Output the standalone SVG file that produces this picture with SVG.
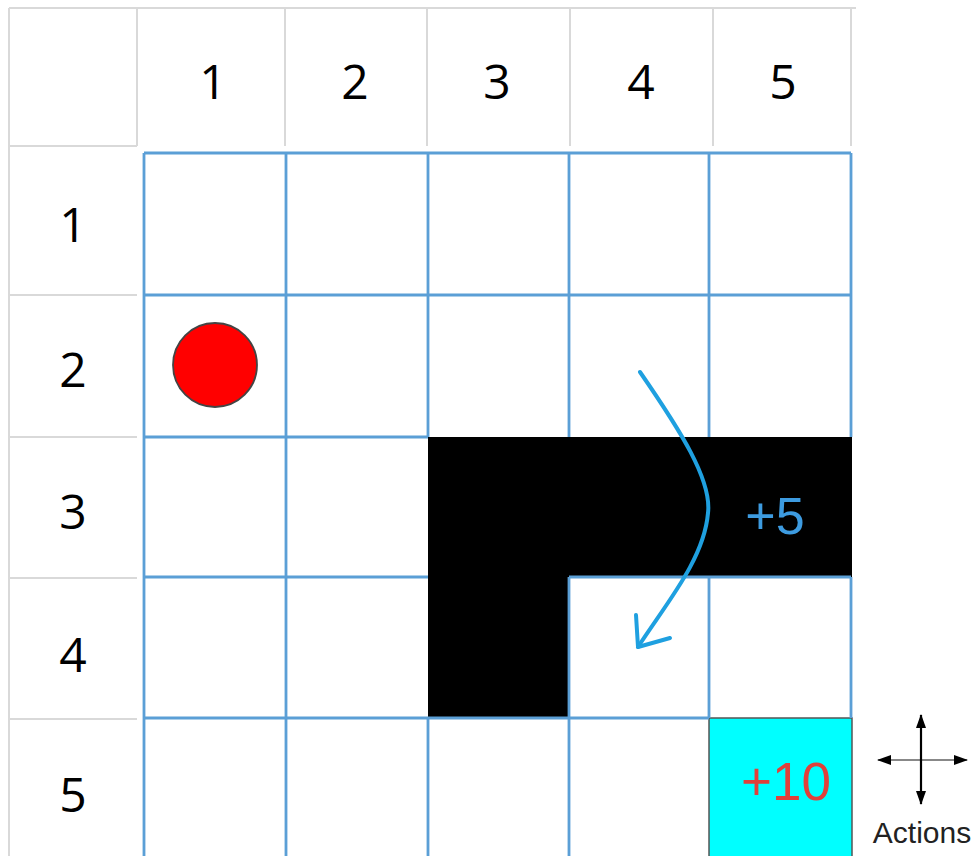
<svg xmlns="http://www.w3.org/2000/svg" width="978" height="856" viewBox="0 0 978 856">
<style>
.hdr{stroke:#d9d9d9;stroke-width:2;fill:none}
.grid{stroke:#5b9fd6;stroke-width:2.8;fill:none}
.lbl{font-family:"Open Sans","Liberation Sans",sans-serif;font-size:48px;fill:#000;text-anchor:middle}
</style>
<defs>
<marker id="ah" viewBox="0 0 14 10" refX="13" refY="5" markerWidth="14" markerHeight="10" markerUnits="userSpaceOnUse" orient="auto-start-reverse">
<path d="M0,0 L14,5 L0,10 Z" fill="#000"/>
</marker>
</defs>
<rect width="978" height="856" fill="#fff"/>
<g id="header">
<path class="hdr" d="M9,8 H856 M9,8 V856 M137,8 V146 M285,8 V146 M427,8 V146 M570,8 V146 M713,8 V146 M851,8 V146 M9,146 H137 M9,295 H137 M9,437 H137 M9,578 H137 M9,719 H137"/>
<text class="lbl" x="213" y="99">1</text>
<text class="lbl" x="355" y="99">2</text>
<text class="lbl" x="497" y="99">3</text>
<text class="lbl" x="641" y="99">4</text>
<text class="lbl" x="783" y="99">5</text>
<text class="lbl" x="73" y="242">1</text>
<text class="lbl" x="73" y="387">2</text>
<text class="lbl" x="73" y="529">3</text>
<text class="lbl" x="73" y="672">4</text>
<text class="lbl" x="73" y="812">5</text>
</g>
<g id="walls">
<polygon points="428,437 852,437 852,577 569,577 569,718 428,718" fill="#000"/>
</g>
<g id="goal">
<rect x="709" y="718" width="143" height="140" fill="#00ffff" stroke="#555" stroke-width="1.5"/>
<text x="786" y="800" font-family="Liberation Sans,Arial,sans-serif" font-size="53" fill="#e0403a" text-anchor="middle">+10</text>
</g>
<g id="grid">
<path class="grid" d="M144,153 H851 M144,295 H851 M144,437 H428 M144,577 H428 M569,577 H851 M144,718 H709 M144,153 V856 M286,153 V856 M428,153 V437 M428,718 V856 M569,153 V437 M569,577 V856 M709,153 V437 M709,577 V718 M851,153 V437 M851,577 V718"/>
</g>
<g id="agent">
<circle cx="215" cy="365" r="42" fill="#ff0000" stroke="#444" stroke-width="1.8"/>
</g>
<g id="bonus">
<text x="775" y="534" font-family="Liberation Sans,Arial,sans-serif" font-size="52" fill="#3d9be0" text-anchor="middle">+5</text>
</g>
<g id="connectors">
<path d="M640,372 C680,430 712,480 708,513 C704,560 665,605 638,647" fill="none" stroke="#1fa0e0" stroke-width="4" stroke-linecap="round"/>
<path d="M636,615 L638,647 L670,638" fill="none" stroke="#1fa0e0" stroke-width="4" stroke-linecap="round" stroke-linejoin="round"/>
</g>
<g id="actions">
<line x1="878" y1="760" x2="967" y2="760" stroke="#888" stroke-width="2.2" marker-start="url(#ah)" marker-end="url(#ah)"/>
<line x1="921" y1="715" x2="921" y2="804" stroke="#000" stroke-width="2.2" marker-start="url(#ah)" marker-end="url(#ah)"/>
<text x="922" y="843" font-family="Liberation Sans,Arial,sans-serif" font-size="30" fill="#222" text-anchor="middle">Actions</text>
</g>
</svg>
